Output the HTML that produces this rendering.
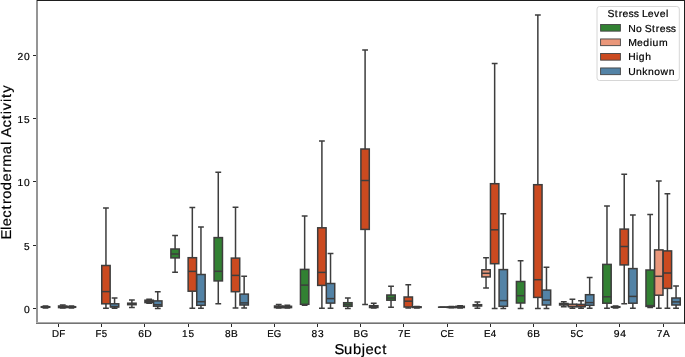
<!DOCTYPE html>
<html><head><meta charset="utf-8"><style>
html,body{margin:0;padding:0;background:#fff;}
svg{display:block;will-change:transform;}
text{font-family:"Liberation Sans",sans-serif;fill:#000;stroke:#000;stroke-width:0.2px;text-rendering:geometricPrecision;}
.w{stroke:#3d3d3d;stroke-width:1.5;fill:none;stroke-linecap:square;}
.b{stroke:#3d3d3d;stroke-width:1.5;}
.m{stroke:#3d3d3d;stroke-width:1.5;fill:none;}
.t{stroke:#262626;stroke-width:1;fill:none;}
</style></head><body>
<svg width="685" height="357" viewBox="0 0 685 357">
<rect x="0" y="0" width="685" height="357" fill="#fff"/>
<path d="M45.51 307.3V308M43.36 308H47.66M45.51 306.7V306M43.36 306H47.66" class="w"/>
<rect x="41.31" y="306.7" width="8.4" height="0.6" fill="#328133" class="b"/>
<path d="M41.31 307H49.71" class="m"/>
<path d="M62.76 307.6V308M60.61 308H64.91M62.76 306V305M60.61 305H64.91" class="w"/>
<rect x="58.56" y="306" width="8.4" height="1.6" fill="#cb4a20" class="b"/>
<path d="M58.56 307H66.96" class="m"/>
<path d="M71.39 307.3V308M69.24 308H73.54M71.39 306.7V306M69.24 306H73.54" class="w"/>
<rect x="67.19" y="306.7" width="8.4" height="0.6" fill="#5383a6" class="b"/>
<path d="M67.19 307H75.59" class="m"/>
<path d="M105.95 303.8V308.3M103.8 308.3H108.1M105.95 265.5V208.1M103.8 208.1H108.1" class="w"/>
<rect x="101.75" y="265.5" width="8.4" height="38.3" fill="#cb4a20" class="b"/>
<path d="M101.75 291.6H110.15" class="m"/>
<path d="M114.58 307V308.3M112.43 308.3H116.73M114.58 303.8V297.9M112.43 297.9H116.73" class="w"/>
<rect x="110.38" y="303.8" width="8.4" height="3.2" fill="#5383a6" class="b"/>
<path d="M110.38 306.6H118.78" class="m"/>
<path d="M131.89 304.7V307.4M129.74 307.4H134.04M131.89 303.2V299.9M129.74 299.9H134.04" class="w"/>
<rect x="127.69" y="303.2" width="8.4" height="1.5" fill="#328133" class="b"/>
<path d="M127.69 304H136.09" class="m"/>
<path d="M149.14 302.6V303.2M146.99 303.2H151.29M149.14 300.2V299.2M146.99 299.2H151.29" class="w"/>
<rect x="144.94" y="300.2" width="8.4" height="2.4" fill="#cb4a20" class="b"/>
<path d="M144.94 301.5H153.34" class="m"/>
<path d="M157.77 306.2V308.4M155.62 308.4H159.92M157.77 300.9V291.8M155.62 291.8H159.92" class="w"/>
<rect x="153.57" y="300.9" width="8.4" height="5.3" fill="#5383a6" class="b"/>
<path d="M153.57 304.7H161.97" class="m"/>
<path d="M175.08 257.9V272.2M172.93 272.2H177.23M175.08 249V235.4M172.93 235.4H177.23" class="w"/>
<rect x="170.88" y="249" width="8.4" height="8.9" fill="#328133" class="b"/>
<path d="M170.88 254H179.28" class="m"/>
<path d="M192.33 291.2V308.3M190.18 308.3H194.48M192.33 257.7V207.5M190.18 207.5H194.48" class="w"/>
<rect x="188.13" y="257.7" width="8.4" height="33.5" fill="#cb4a20" class="b"/>
<path d="M188.13 271.4H196.53" class="m"/>
<path d="M200.96 305.3V308.3M198.81 308.3H203.11M200.96 274.5V227.1M198.81 227.1H203.11" class="w"/>
<rect x="196.76" y="274.5" width="8.4" height="30.8" fill="#5383a6" class="b"/>
<path d="M196.76 301.7H205.16" class="m"/>
<path d="M218.27 280.9V303.8M216.12 303.8H220.42M218.27 237.6V172.2M216.12 172.2H220.42" class="w"/>
<rect x="214.07" y="237.6" width="8.4" height="43.3" fill="#328133" class="b"/>
<path d="M214.07 271.3H222.47" class="m"/>
<path d="M235.52 291.7V308.1M233.37 308.1H237.67M235.52 258.1V207.3M233.37 207.3H237.67" class="w"/>
<rect x="231.32" y="258.1" width="8.4" height="33.6" fill="#cb4a20" class="b"/>
<path d="M231.32 275.4H239.72" class="m"/>
<path d="M244.15 305V308.1M242 308.1H246.3M244.15 294.1V276.3M242 276.3H246.3" class="w"/>
<rect x="239.95" y="294.1" width="8.4" height="10.9" fill="#5383a6" class="b"/>
<path d="M239.95 302.9H248.35" class="m"/>
<path d="M278.71 307.6V308M276.56 308H280.86M278.71 306V304.6M276.56 304.6H280.86" class="w"/>
<rect x="274.51" y="306" width="8.4" height="1.6" fill="#cb4a20" class="b"/>
<path d="M274.51 307H282.91" class="m"/>
<path d="M287.34 307.6V308M285.19 308H289.49M287.34 306.3V305.3M285.19 305.3H289.49" class="w"/>
<rect x="283.14" y="306.3" width="8.4" height="1.3" fill="#5383a6" class="b"/>
<path d="M283.14 307.2H291.54" class="m"/>
<path d="M304.65 304.3V305.2M302.5 305.2H306.8M304.65 269.4V216.1M302.5 216.1H306.8" class="w"/>
<rect x="300.45" y="269.4" width="8.4" height="34.9" fill="#328133" class="b"/>
<path d="M300.45 285.1H308.85" class="m"/>
<path d="M321.9 285.4V308.3M319.75 308.3H324.05M321.9 227.8V140.9M319.75 140.9H324.05" class="w"/>
<rect x="317.7" y="227.8" width="8.4" height="57.6" fill="#cb4a20" class="b"/>
<path d="M317.7 272.4H326.1" class="m"/>
<path d="M330.53 303.1V308.3M328.38 308.3H332.68M330.53 283.5V253.6M328.38 253.6H332.68" class="w"/>
<rect x="326.33" y="283.5" width="8.4" height="19.6" fill="#5383a6" class="b"/>
<path d="M326.33 298.6H334.73" class="m"/>
<path d="M347.84 306.3V308.4M345.69 308.4H349.99M347.84 302.7V297.9M345.69 297.9H349.99" class="w"/>
<rect x="343.64" y="302.7" width="8.4" height="3.6" fill="#328133" class="b"/>
<path d="M343.64 304.5H352.04" class="m"/>
<path d="M365.09 229.4V304.5M362.94 304.5H367.24M365.09 149V50M362.94 50H367.24" class="w"/>
<rect x="360.89" y="149" width="8.4" height="80.4" fill="#cb4a20" class="b"/>
<path d="M360.89 180.5H369.29" class="m"/>
<path d="M373.72 307.5V308M371.57 308H375.87M373.72 305.7V303.2M371.57 303.2H375.87" class="w"/>
<rect x="369.52" y="305.7" width="8.4" height="1.8" fill="#5383a6" class="b"/>
<path d="M369.52 306.5H377.92" class="m"/>
<path d="M391.03 300.2V307.2M388.88 307.2H393.18M391.03 295V286.2M388.88 286.2H393.18" class="w"/>
<rect x="386.83" y="295" width="8.4" height="5.2" fill="#328133" class="b"/>
<path d="M386.83 298H395.23" class="m"/>
<path d="M408.28 307V308M406.13 308H410.43M408.28 297V284.7M406.13 284.7H410.43" class="w"/>
<rect x="404.08" y="297" width="8.4" height="10" fill="#cb4a20" class="b"/>
<path d="M404.08 301.2H412.48" class="m"/>
<path d="M416.91 307.5V308M414.76 308H419.06M416.91 306.8V306.5M414.76 306.5H419.06" class="w"/>
<rect x="412.71" y="306.8" width="8.4" height="0.7" fill="#5383a6" class="b"/>
<path d="M412.71 307.2H421.11" class="m"/>
<path d="M442.85 307.2V307.2M440.7 307.2H445M442.85 307.2V307.2M440.7 307.2H445" class="w"/>
<rect x="438.65" y="307.2" width="8.4" height="0.01" fill="#ea977a" class="b"/>
<path d="M438.65 307.2H447.05" class="m"/>
<path d="M451.47 307.5V307.8M449.32 307.8H453.62M451.47 306.9V306.5M449.32 306.5H453.62" class="w"/>
<rect x="447.27" y="306.9" width="8.4" height="0.6" fill="#cb4a20" class="b"/>
<path d="M447.27 307.2H455.67" class="m"/>
<path d="M460.1 307.5V308M457.95 308H462.25M460.1 306.3V305.8M457.95 305.8H462.25" class="w"/>
<rect x="455.9" y="306.3" width="8.4" height="1.2" fill="#5383a6" class="b"/>
<path d="M455.9 307H464.3" class="m"/>
<path d="M477.41 306V308.3M475.26 308.3H479.56M477.41 304.7V302.1M475.26 302.1H479.56" class="w"/>
<rect x="473.21" y="304.7" width="8.4" height="1.3" fill="#328133" class="b"/>
<path d="M473.21 305.3H481.61" class="m"/>
<path d="M486.04 276.9V287.9M483.89 287.9H488.19M486.04 269.8V257.8M483.89 257.8H488.19" class="w"/>
<rect x="481.84" y="269.8" width="8.4" height="7.1" fill="#ea977a" class="b"/>
<path d="M481.84 273.3H490.24" class="m"/>
<path d="M494.66 263.7V308.4M492.51 308.4H496.81M494.66 183.7V63.6M492.51 63.6H496.81" class="w"/>
<rect x="490.46" y="183.7" width="8.4" height="80" fill="#cb4a20" class="b"/>
<path d="M490.46 229.8H498.86" class="m"/>
<path d="M503.29 306.3V308.4M501.14 308.4H505.44M503.29 269.6V213.7M501.14 213.7H505.44" class="w"/>
<rect x="499.09" y="269.6" width="8.4" height="36.7" fill="#5383a6" class="b"/>
<path d="M499.09 300.6H507.49" class="m"/>
<path d="M520.6 303V308.4M518.45 308.4H522.75M520.6 281.5V260.8M518.45 260.8H522.75" class="w"/>
<rect x="516.4" y="281.5" width="8.4" height="21.5" fill="#328133" class="b"/>
<path d="M516.4 295.7H524.8" class="m"/>
<path d="M537.85 297.4V308.4M535.7 308.4H540M537.85 184.7V15M535.7 15H540" class="w"/>
<rect x="533.65" y="184.7" width="8.4" height="112.7" fill="#cb4a20" class="b"/>
<path d="M533.65 279.7H542.05" class="m"/>
<path d="M546.48 305V308.4M544.33 308.4H548.63M546.48 290.1V267.3M544.33 267.3H548.63" class="w"/>
<rect x="542.28" y="290.1" width="8.4" height="14.9" fill="#5383a6" class="b"/>
<path d="M542.28 300.1H550.68" class="m"/>
<path d="M563.79 305V306.7M561.64 306.7H565.94M563.79 303.5V301.8M561.64 301.8H565.94" class="w"/>
<rect x="559.59" y="303.5" width="8.4" height="1.5" fill="#328133" class="b"/>
<path d="M559.59 304.3H567.99" class="m"/>
<path d="M572.42 306.6V308.2M570.27 308.2H574.57M572.42 304.2V299.3M570.27 299.3H574.57" class="w"/>
<rect x="568.22" y="304.2" width="8.4" height="2.4" fill="#ea977a" class="b"/>
<path d="M568.22 306.6H576.62" class="m"/>
<path d="M581.04 306.6V308.2M578.89 308.2H583.19M581.04 304.4V300.8M578.89 300.8H583.19" class="w"/>
<rect x="576.84" y="304.4" width="8.4" height="2.2" fill="#cb4a20" class="b"/>
<path d="M576.84 306.6H585.24" class="m"/>
<path d="M589.67 305.3V308.2M587.52 308.2H591.82M589.67 294.7V277.6M587.52 277.6H591.82" class="w"/>
<rect x="585.47" y="294.7" width="8.4" height="10.6" fill="#5383a6" class="b"/>
<path d="M585.47 302.6H593.87" class="m"/>
<path d="M606.98 303.2V308.3M604.83 308.3H609.13M606.98 264.4V206M604.83 206H609.13" class="w"/>
<rect x="602.78" y="264.4" width="8.4" height="38.8" fill="#328133" class="b"/>
<path d="M602.78 296.8H611.18" class="m"/>
<path d="M615.61 307.3V308M613.46 308H617.76M615.61 306.7V306M613.46 306H617.76" class="w"/>
<rect x="611.41" y="306.7" width="8.4" height="0.6" fill="#ea977a" class="b"/>
<path d="M611.41 307H619.81" class="m"/>
<path d="M624.23 264.9V303.8M622.08 303.8H626.38M624.23 229.1V174.2M622.08 174.2H626.38" class="w"/>
<rect x="620.03" y="229.1" width="8.4" height="35.8" fill="#cb4a20" class="b"/>
<path d="M620.03 246.5H628.43" class="m"/>
<path d="M632.86 303.2V308.3M630.71 308.3H635.01M632.86 268.6V215M630.71 215H635.01" class="w"/>
<rect x="628.66" y="268.6" width="8.4" height="34.6" fill="#5383a6" class="b"/>
<path d="M628.66 296.4H637.06" class="m"/>
<path d="M650.17 306.4V307.5M648.02 307.5H652.32M650.17 270V214.4M648.02 214.4H652.32" class="w"/>
<rect x="645.97" y="270" width="8.4" height="36.4" fill="#328133" class="b"/>
<path d="M645.97 305.6H654.37" class="m"/>
<path d="M658.8 295.2V308.3M656.65 308.3H660.95M658.8 249.9V181.1M656.65 181.1H660.95" class="w"/>
<rect x="654.6" y="249.9" width="8.4" height="45.3" fill="#ea977a" class="b"/>
<path d="M654.6 276.3H663" class="m"/>
<path d="M667.42 288.4V308.3M665.27 308.3H669.57M667.42 250.9V193.8M665.27 193.8H669.57" class="w"/>
<rect x="663.22" y="250.9" width="8.4" height="37.5" fill="#cb4a20" class="b"/>
<path d="M663.22 273H671.62" class="m"/>
<path d="M676.05 305V308.3M673.9 308.3H678.2M676.05 298V286M673.9 286H678.2" class="w"/>
<rect x="671.85" y="298" width="8.4" height="7" fill="#5383a6" class="b"/>
<path d="M671.85 301.9H680.25" class="m"/>
<rect x="36" y="0" width="2" height="324" fill="#959595"/>
<rect x="36" y="322" width="648" height="1" fill="#a8a8a8"/>
<rect x="36" y="323" width="648" height="1" fill="#737373"/>
<rect x="37" y="0" width="648" height="1" fill="#1e1e1e"/>
<rect x="684" y="0" width="1" height="324" fill="#1e1e1e"/>
<path d="M58.5 324V327" class="t"/>
<text transform="translate(58.45 337.4) scale(0.9729 1)" x="-6.54 0.90" font-size="10.00">DF</text>
<path d="M101.5 324V327" class="t"/>
<text transform="translate(101.64 337.4) scale(0.9630 1)" x="-6.36 0.16" font-size="10.00">F5</text>
<path d="M144.5 324V327" class="t"/>
<text transform="translate(144.83 337.4) scale(1.0314 1)" x="-6.51 -0.51" font-size="10.00">6D</text>
<path d="M188.5 324V327" class="t"/>
<text transform="translate(188.02 337.4)" x="-6.01 0.36" font-size="10.00">15</text>
<path d="M231.5 324V327" class="t"/>
<text transform="translate(231.21 337.4) scale(1.0093 1)" x="-6.18 -0.19" font-size="10.00">8B</text>
<path d="M274.5 324V327" class="t"/>
<text transform="translate(274.4 337.4) scale(0.9605 1)" x="-7.39 -0.61" font-size="10.00">EG</text>
<path d="M317.5 324V327" class="t"/>
<text transform="translate(317.59 337.4) scale(1.0195 1)" x="-5.90 0.35" font-size="10.00">83</text>
<path d="M360.5 324V327" class="t"/>
<text transform="translate(360.78 337.4) scale(0.9867 1)" x="-7.27 -0.42" font-size="10.00">BG</text>
<path d="M403.5 324V327" class="t"/>
<text transform="translate(403.97 337.4) scale(0.9745 1)" x="-6.05 -0.09" font-size="10.00">7E</text>
<path d="M447.5 324V327" class="t"/>
<text transform="translate(447.16 337.4) scale(0.9487 1)" x="-6.99 0.33" font-size="10.00">CE</text>
<path d="M490.5 324V327" class="t"/>
<text transform="translate(490.35 337.4) scale(0.9802 1)" x="-6.60 0.44" font-size="10.00">E4</text>
<path d="M533.5 324V327" class="t"/>
<text transform="translate(533.54 337.4) scale(1.0156 1)" x="-6.16 -0.21" font-size="10.00">6B</text>
<path d="M576.5 324V327" class="t"/>
<text transform="translate(576.73 337.4) scale(0.9808 1)" x="-6.38 -0.42" font-size="10.00">5C</text>
<path d="M619.5 324V327" class="t"/>
<text transform="translate(619.92 337.4) scale(1.0358 1)" x="-5.88 0.29" font-size="10.00">94</text>
<path d="M663.5 324V327" class="t"/>
<text transform="translate(663.11 337.4) scale(1.0096 1)" x="-6.19 -0.19" font-size="10.00">7A</text>
<path d="M33 308.5H36" class="t"/>
<text transform="translate(30 312.7) scale(1.0167 1)" x="-5.97" font-size="10.20">0</text>
<path d="M33 245.5H36" class="t"/>
<text transform="translate(30 249.5) scale(0.9877 1)" x="-6.10" font-size="10.20">5</text>
<path d="M33 181.5H36" class="t"/>
<text transform="translate(30 186.3) scale(1.0051 1)" x="-12.38 -6.00" font-size="10.20">10</text>
<path d="M33 118.5H36" class="t"/>
<text transform="translate(30 123.1) scale(0.9906 1)" x="-12.52 -6.09" font-size="10.20">15</text>
<path d="M33 55.5H36" class="t"/>
<text transform="translate(30 59.9) scale(1.0074 1)" x="-12.44 -6.00" font-size="10.20">20</text>
<rect x="597" y="6.5" width="82.3" height="74" rx="2.5" fill="#fff" fill-opacity="0.8" stroke="#d6d6d6" stroke-width="1"/>
<text transform="translate(638.4 17.2) translate(-0.20 0.00) scale(1.0257 1)" x="-29.85 -22.93 -19.09 -15.39 -9.52 -4.44 0.72 3.77 9.30 15.45 21.07 27.10" font-size="10.20">Stress Level</text>
<rect x="600.6" y="24.45" width="19.8" height="6.7" fill="#328133" stroke="#444" stroke-width="0.9"/>
<text transform="translate(628.3 31.6) scale(1.0243 1)" x="-0.03 7.46 13.41 16.13 23.05 26.90 30.60 36.48 41.57" font-size="10.20">No Stress</text>
<rect x="600.6" y="38.95" width="19.8" height="6.7" fill="#ea977a" stroke="#444" stroke-width="0.9"/>
<text transform="translate(628.3 46.03) scale(1.0232 1)" x="-0.03 8.62 14.65 20.88 23.60 30.10" font-size="10.20">Medium</text>
<rect x="600.6" y="53.45" width="19.8" height="6.7" fill="#cb4a20" stroke="#444" stroke-width="0.9"/>
<text transform="translate(628.3 60.46) scale(1.0134 1)" x="0.02 7.66 10.40 16.72" font-size="10.20">High</text>
<rect x="600.6" y="67.95" width="19.8" height="6.7" fill="#5383a6" stroke="#444" stroke-width="0.9"/>
<text transform="translate(628.3 74.89) scale(1.0189 1)" x="-0.09 7.48 13.78 19.38 25.48 31.64 39.64" font-size="10.20">Unknown</text>
<text transform="translate(361 353.6) scale(1.0326 1)" x="-25.73 -16.44 -7.73 0.66 4.46 12.57 20.66" font-size="14.28">Subject</text>
<text transform="translate(10.5 161.75) rotate(-90) translate(-0.20 0.00) scale(1.0379 1)" x="-74.81 -65.52 -61.88 -53.87 -45.86 -40.58 -35.57 -27.30 -18.83 -10.14 -4.63 7.42 16.25 19.85 23.80 33.09 41.09 46.01 49.86 57.66 61.71 66.76" font-size="14.18">Electrodermal Activity</text>
</svg>
</body></html>
